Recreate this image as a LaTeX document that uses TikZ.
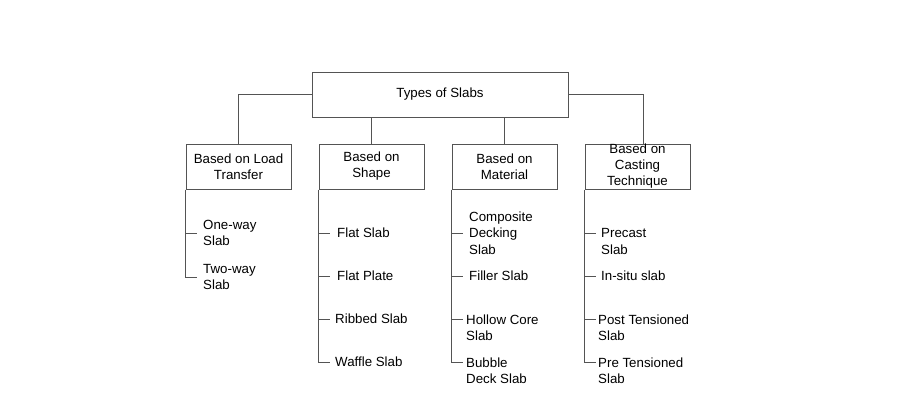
\documentclass[tikz,border=0pt]{standalone}
\usepackage{fontspec}
\setmainfont{Liberation Sans}
\usepackage{tikz}
\usetikzlibrary{positioning}
\definecolor{linegray}{rgb}{0.33, 0.33, 0.33}
\tikzset{
	box/.style={draw=linegray, line width=1pt, minimum width=105pt, minimum height=45pt, align=center, inner sep=0pt, font=\fontsize{13.3pt}{16pt}\selectfont},
	leaf/.style={align=left, inner sep=0pt, font=\fontsize{13.3pt}{16.5pt}\selectfont},
	link/.style={linegray, line width=1pt},
}

\begin{document}
\begin{tikzpicture}[x=1pt, y=-1pt]
		\useasboundingbox (0,0) rectangle (900,400);
		\node [box, minimum width=256pt] (top) at (440,94.5) {Types of Slabs};
		\node [box] (load) at (238.5,166.5) {Based on Load\\Transfer};
		\node [box, right=27pt of load] (shape) {Based on\\Shape};
		\node [box, right=27pt of shape] (material) {Based on\\Material};
		\node [box, right=27pt of material] (casting) {Based on\\Casting\\Technique};
		
		\draw [link] (top.west) -| (load.north);
		\draw [link] (top.east) -| ([xshift=6pt]casting.north);
		\draw [link] (top.south -| shape.north) -- (shape.north);
		\draw [link] (top.south -| material.north) -- (material.north);
		
		\node [leaf, anchor=west] (oneway) at (203,233) {One-way\\Slab};
		\node [leaf, anchor=west] (twoway) at (203,277) {Two-way\\Slab};
		\node [leaf, anchor=west] (flatslab) at (337,233) {Flat Slab};
		\node [leaf, anchor=west] (flatplate) at (337,276) {Flat Plate};
		\node [leaf, anchor=west] (ribbed) at (335,319) {Ribbed Slab};
		\node [leaf, anchor=west] (waffle) at (335,362) {Waffle Slab};
		\node [leaf, anchor=west] (composite) at (469,233) {Composite\\Decking\\Slab};
		\node [leaf, anchor=west] (filler) at (469,276) {Filler Slab};
		\node [leaf, anchor=north west] (hollow) at (466,314.2) {Hollow Core\\Slab};
		\node [leaf, anchor=north west] (bubble) at (466,357.2) {Bubble\\Deck Slab};
		\node [leaf, anchor=north west] (precast) at (601,228.2) {Precast\\Slab};
		\node [leaf, anchor=west] (insitu) at (601,276) {In-situ slab};
		\node [leaf, anchor=north west] (post) at (598,314.2) {Post Tensioned\\Slab};
		\node [leaf, anchor=north west] (pre) at (598,357.2) {Pre Tensioned\\Slab};
		
		\foreach \n in {oneway, twoway, flatslab, flatplate, ribbed, waffle, composite, filler, insitu}{
			\coordinate (\n-t) at (\n.west);
		}
		\foreach \n in {hollow, bubble, precast, post, pre}{
			\coordinate (\n-t) at ([yshift=-4.8pt]\n.north west);
		}
		\foreach \s/\n in {load/oneway, shape/flatslab, shape/flatplate, shape/ribbed, material/composite, material/filler, material/hollow, casting/precast, casting/insitu, casting/post}{
			\draw [link] (\s.south west |- \n-t) -- ++(11,0);
		}
		\foreach \s/\n in {load/twoway, shape/waffle, material/bubble, casting/pre}{
			\draw [link] (\s.south west) -- (\s.south west |- \n-t) -- ++(11,0);
		}
	\end{tikzpicture}
\end{document}
